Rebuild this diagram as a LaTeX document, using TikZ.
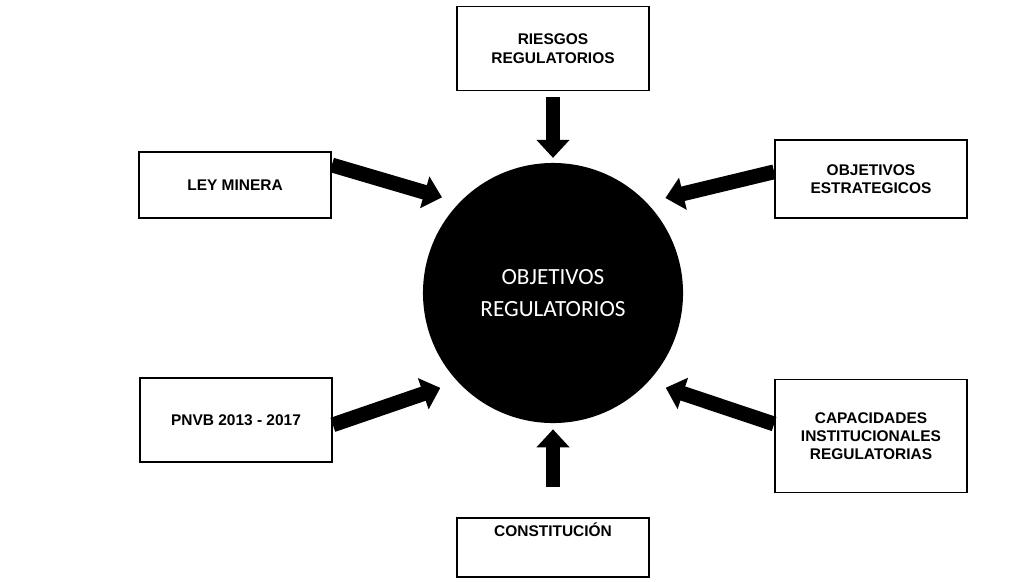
\documentclass[tikz,border=0pt]{standalone}
\usepackage{fontspec}
\setmainfont{Liberation Sans}
\newfontfamily\circfont{Carlito}
\usetikzlibrary{arrows.meta,positioning}

\begin{document}
\begin{tikzpicture}[x=0.025cm, y=-0.025cm,
                box/.style={draw, rectangle, line width=1.2pt, minimum width=4.8cm, align=center, font=\bfseries\fontsize{11}{13}\selectfont},
                fat/.style={line width=0.37cm, -{Triangle[width=0.8cm, length=0.45cm]}}]
                \useasboundingbox (0,0) rectangle (1016,581);
                \node[circle, fill=black, minimum size=6.5cm, inner sep=0pt, text=white, align=center, font=\circfont\fontsize{16.5}{23}\selectfont] (obj) at (553,293) {OBJETIVOS\\REGULATORIOS};
                \node[box, minimum height=2.1cm, above=1.78cm of obj] (riesgos) {RIESGOS\\REGULATORIOS};
                \node[box, text depth=0.9cm, below=2.35cm of obj] (const) {CONSTITUCIÓN};
                \node[box, minimum height=1.65cm] (ley) at (235,185) {LEY MINERA};
                \node[box, minimum height=2.1cm] (pnvb) at (236,420) {PNVB 2013 - 2017};
                \node[box, minimum height=1.95cm] (estrat) at (871,179) {OBJETIVOS\\ESTRATEGICOS};
                \node[box, minimum height=2.83cm] (capac) at (871,436) {CAPACIDADES\\INSTITUCIONALES\\REGULATORIAS};
                \draw[fat, shorten <=0.15cm, shorten >=0.12cm] (riesgos) -- (obj);
                \draw[fat, shorten <=0.75cm, shorten >=0.15cm] (const) -- (obj);
                \draw[fat, shorten >=0.45cm] ([yshift=0.5cm]ley.east) -- (obj.136);
                \draw[fat, shorten >=0.46cm] ([yshift=-0.12cm]pnvb.east) -- (obj.223);
                \draw[fat, shorten >=0.48cm] ([yshift=0.18cm]estrat.west) -- (obj.44);
                \draw[fat, shorten >=0.46cm] ([yshift=0.3cm]capac.west) -- (obj.317);
            \end{tikzpicture}
\end{document}
